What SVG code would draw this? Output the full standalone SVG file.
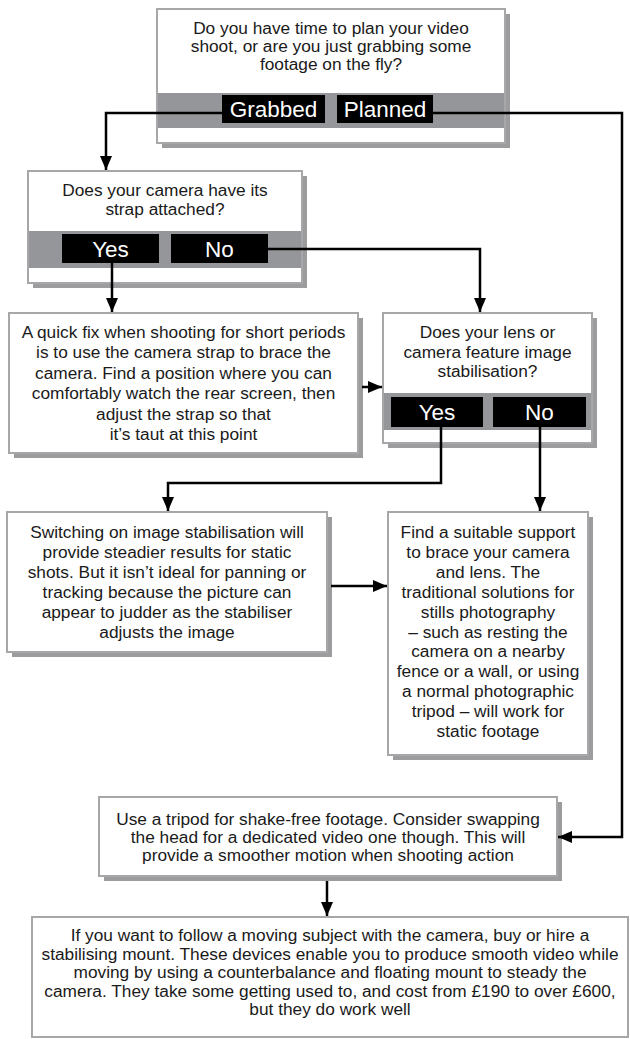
<svg xmlns="http://www.w3.org/2000/svg" width="630" height="1039" viewBox="0 0 630 1039">
<style>
.sh{fill:#9c9c9f}
.bx{fill:#fff;stroke:#a7a7a9;stroke-width:2}
.band{fill:#959699}
.btn{fill:#000}
.t{font-family:"Liberation Sans",Arial,sans-serif;font-size:17.3px;fill:#1a1a1a;text-anchor:middle}
.bt{font-family:"Liberation Sans",Arial,sans-serif;font-size:22.5px;fill:#fff;text-anchor:middle}
.c{fill:none;stroke:#000;stroke-width:2.5}
</style>
<defs>
<marker id="ah" markerUnits="userSpaceOnUse" markerWidth="14" markerHeight="12" refX="14" refY="6" orient="auto">
<path d="M0,0 L14,6 L0,12 Z" fill="#000"/>
</marker>
</defs>
<rect width="630" height="1039" fill="#fff"/>

<g id="q1">
<rect class="sh" x="162" y="14" width="348" height="134"/>
<rect class="bx" x="157" y="9" width="348" height="134"/>
<rect class="band" x="158" y="93" width="346" height="35"/>
<text class="t" x="331" y="34">Do you have time to plan your video</text>
<text class="t" x="331" y="52">shoot, or are you just grabbing some</text>
<text class="t" x="331" y="70">footage on the fly?</text>
<rect class="btn" x="222" y="95" width="103" height="28"/>
<rect class="btn" x="337" y="95" width="96" height="28"/>
<text class="bt" x="273.5" y="117">Grabbed</text>
<text class="bt" x="385" y="117">Planned</text>
</g>

<g id="q2">
<rect class="sh" x="33" y="176" width="274" height="112"/>
<rect class="bx" x="28" y="171" width="274" height="112"/>
<rect class="band" x="29" y="231" width="272" height="37"/>
<text class="t" x="165" y="196">Does your camera have its</text>
<text class="t" x="165" y="215">strap attached?</text>
<rect class="btn" x="62" y="234" width="97" height="29"/>
<rect class="btn" x="171" y="234" width="97" height="29"/>
<text class="bt" x="110.5" y="256.5">Yes</text>
<text class="bt" x="219.5" y="256.5">No</text>
</g>

<g id="a1">
<rect class="sh" x="14" y="318" width="349" height="140"/>
<rect class="bx" x="9" y="313" width="349" height="140"/>
<text class="t" x="183.5" y="338">A quick fix when shooting for short periods</text>
<text class="t" x="183.5" y="358">is to use the camera strap to brace the</text>
<text class="t" x="183.5" y="379">camera. Find a position where you can</text>
<text class="t" x="183.5" y="399">comfortably watch the rear screen, then</text>
<text class="t" x="183.5" y="420">adjust the strap so that</text>
<text class="t" x="183.5" y="440">it’s taut at this point</text>
</g>

<g id="q3">
<rect class="sh" x="388" y="318" width="209" height="130"/>
<rect class="bx" x="383" y="313" width="209" height="130"/>
<rect class="band" x="384" y="393" width="207" height="37"/>
<text class="t" x="487.5" y="338">Does your lens or</text>
<text class="t" x="487.5" y="357.5">camera feature image</text>
<text class="t" x="487.5" y="377">stabilisation?</text>
<rect class="btn" x="391" y="397" width="92" height="30"/>
<rect class="btn" x="493" y="397" width="93" height="30"/>
<text class="bt" x="437" y="420">Yes</text>
<text class="bt" x="539.5" y="420">No</text>
</g>

<g id="a2">
<rect class="sh" x="12" y="517" width="320" height="140"/>
<rect class="bx" x="7" y="512" width="320" height="140"/>
<text class="t" x="167" y="538">Switching on image stabilisation will</text>
<text class="t" x="167" y="558">provide steadier results for static</text>
<text class="t" x="167" y="578">shots. But it isn’t ideal for panning or</text>
<text class="t" x="167" y="598">tracking because the picture can</text>
<text class="t" x="167" y="618">appear to judder as the stabiliser</text>
<text class="t" x="167" y="638">adjusts the image</text>
</g>

<g id="a3">
<rect class="sh" x="393" y="517" width="200" height="243"/>
<rect class="bx" x="388" y="512" width="200" height="243"/>
<text class="t" x="488" y="538">Find a suitable support</text>
<text class="t" x="488" y="558">to brace your camera</text>
<text class="t" x="488" y="578">and lens. The</text>
<text class="t" x="488" y="598">traditional solutions for</text>
<text class="t" x="488" y="618">stills photography</text>
<text class="t" x="488" y="638">– such as resting the</text>
<text class="t" x="488" y="657">camera on a nearby</text>
<text class="t" x="488" y="677">fence or a wall, or using</text>
<text class="t" x="488" y="697">a normal photographic</text>
<text class="t" x="488" y="717">tripod – will work for</text>
<text class="t" x="488" y="737">static footage</text>
</g>

<g id="a4">
<rect class="sh" x="104" y="802" width="458" height="79"/>
<rect class="bx" x="99" y="797" width="458" height="79"/>
<text class="t" x="328" y="825">Use a tripod for shake-free footage. Consider swapping</text>
<text class="t" x="328" y="843">the head for a dedicated video one though. This will</text>
<text class="t" x="328" y="861">provide a smoother motion when shooting action</text>
</g>

<g id="a5">
<rect class="bx" x="32" y="917" width="596" height="120"/>
<text class="t" x="330" y="941">If you want to follow a moving subject with the camera, buy or hire a</text>
<text class="t" x="330" y="959.5">stabilising mount. These devices enable you to produce smooth video while</text>
<text class="t" x="330" y="978">moving by using a counterbalance and floating mount to steady the</text>
<text class="t" x="330" y="996.5">camera. They take some getting used to, and cost from £190 to over £600,</text>
<text class="t" x="330" y="1015">but they do work well</text>
</g>

<g id="connectors">
<path class="c" d="M222,113 H106 V170" marker-end="url(#ah)"/>
<path class="c" d="M433,113 H622 V837 H558" marker-end="url(#ah)"/>
<path class="c" d="M112,263 V312" marker-end="url(#ah)"/>
<path class="c" d="M268,249 H480 V312" marker-end="url(#ah)"/>
<path class="c" d="M362,387 H382" marker-end="url(#ah)"/>
<path class="c" d="M441,427 V483 H168 V511" marker-end="url(#ah)"/>
<path class="c" d="M540,427 V511" marker-end="url(#ah)"/>
<path class="c" d="M331,586 H387" marker-end="url(#ah)"/>
<path class="c" d="M327,881 V916" marker-end="url(#ah)"/>
</g>
</svg>
